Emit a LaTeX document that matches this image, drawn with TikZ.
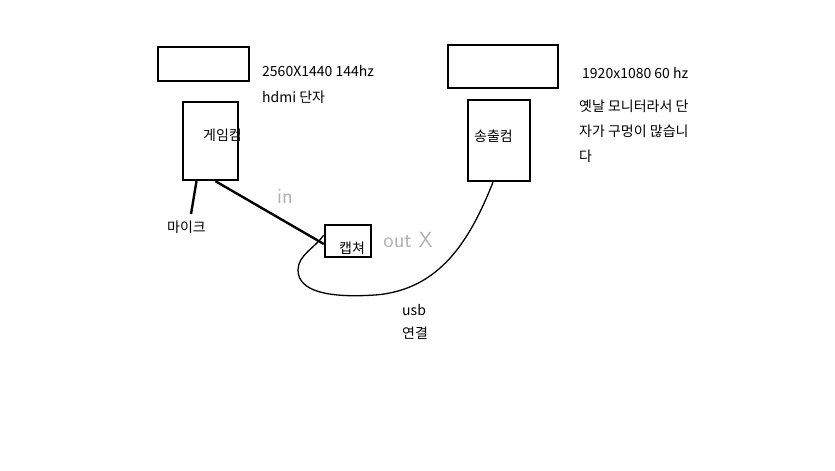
\documentclass[tikz,border=0pt]{standalone}
\usepackage{fontspec}
\setmainfont{Noto Sans CJK KR}
\begin{document}
\begin{tikzpicture}[x=1pt,y=-1pt,
  box/.style={draw,line width=2.4pt,inner sep=0pt},
  txt/.style={anchor=west,inner sep=0pt,font=\fontsize{14}{16}\selectfont},
  hand/.style={text=gray!60,font=\fontsize{22}{22}\selectfont\sffamily,inner sep=0pt},
  wire/.style={line width=2.4pt}]
\useasboundingbox (0,0) rectangle (835,471);
\node[box,minimum width=91pt,minimum height=34pt] (m1) at (203.5,64) {};
\node[box,minimum width=55pt,minimum height=78pt] (g) at (210.5,141) {};
\node[box,minimum width=110pt,minimum height=43pt] (m2) at (503,66.5) {};
\node[box,minimum width=62pt,minimum height=81pt] (b) at (499,140.5) {};
\node[box,minimum width=46pt,minimum height=32pt] (c) at (348,241) {};
\node[txt] (gt) at (203,135) {게임컴};
\node[txt] (bt) at (474,136) {송출컴};
\node[txt] (ct) at (339,248) {캡쳐};
\node[txt] (mic) at (167,227) {마이크};
\node[txt] (r1) at (262,71) {2560X1440 144hz};
\node[txt] (r2) at (262,97) {hdmi 단자};
\node[txt] (r3) at (582,73) {1920x1080 60 hz};
\node[txt] (r4) at (579,106) {옛날 모니터라서 단};
\node[txt] (r5) at (579,131) {자가 구멍이 많습니};
\node[txt] (r6) at (579,156) {다};
\node[txt] (u1) at (402,310) {usb};
\node[txt] (u2) at (402,333) {연결};
\node[hand] (in) at (285,196) {in};
\node[hand] (out) at (408,240) {out X};
\coordinate (micend) at (191,214);
\draw[wire] (g.south)++(-14,0) coordinate (gs) -- (micend);
\draw[wire] ([xshift=5pt]g.south) -- ([yshift=-3pt]c.west);
\draw[line width=1.3pt] ([xshift=-6pt]b.south) .. controls (470,240) and (440,290) .. (375,295)
  .. controls (330,298) and (298,292) .. (298,270)
  .. controls (298,255) and (315,248) .. ([yshift=6pt]c.west);
\end{tikzpicture}
\end{document}
